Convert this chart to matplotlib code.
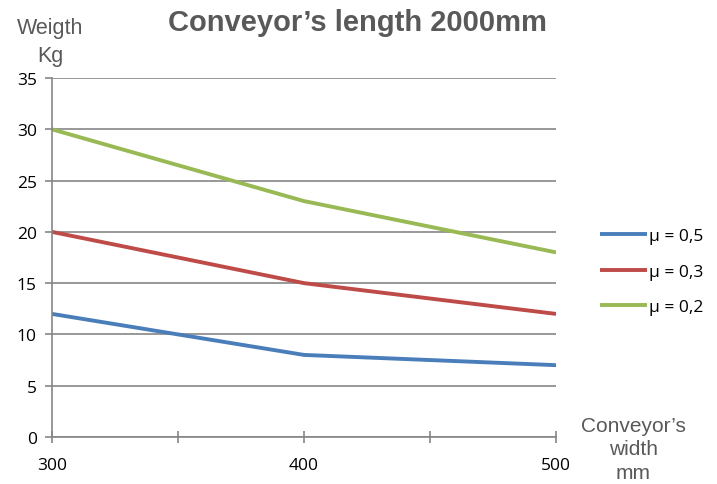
import matplotlib
matplotlib.use("Agg")
import matplotlib.pyplot as plt

# data
widths = [300, 400, 500]
series_labels = ["μ = 0,5", "μ = 0,3", "μ = 0,2"]
mu_05 = [12, 8, 7]
mu_03 = [20, 15, 12]
mu_02 = [30, 23, 18]
colors = ["#4A7EBB", "#BE4B48", "#98B954"]

GRAY = "#868686"
TXT = "#595959"

fig = plt.figure(figsize=(7.17, 4.85), dpi=100)
ax = fig.add_axes([0.0725, 0.097, 0.703, 0.740])

for ys, lab, c in zip([mu_05, mu_03, mu_02], series_labels, colors):
    ax.plot(widths, ys, color=c, lw=2.8, label=lab, solid_capstyle="butt")

ax.set_xlim(300, 500)
ax.set_ylim(0, 35)
ax.set_yticks(range(0, 36, 5))
ax.set_xticks([300, 350, 400, 450, 500])
ax.set_xticklabels(["300", "", "400", "", "500"])
ax.grid(axis="y", color=GRAY, lw=1.2)
ax.set_axisbelow(True)
for s in ["top", "right"]:
    ax.spines[s].set_visible(False)
for s in ["left", "bottom"]:
    ax.spines[s].set_color(GRAY)
    ax.spines[s].set_linewidth(1.2)
ax.tick_params(axis="y", length=5, color=GRAY, width=1.2, labelsize=12.5, pad=6,
               labelcolor="black")
ax.tick_params(axis="x", direction="inout", length=9, color=GRAY, width=1.2,
               labelsize=12.5, pad=10, labelcolor="black")
for t in ax.get_xticklabels() + ax.get_yticklabels():
    t.set_family("Open Sans")

fig.text(0.498, 0.952, "Conveyor’s length 2000mm", ha="center", va="center",
         fontsize=21, fontweight="bold", color=TXT, family="Liberation Sans")
fig.text(0.070, 0.941, "Weigth", ha="center", va="center", fontsize=15.5,
         color=TXT, family="Liberation Sans")
fig.text(0.070, 0.884, "Kg", ha="center", va="center", fontsize=15.5,
         color=TXT, family="Liberation Sans")
fig.text(0.883, 0.073, "Conveyor’s\nwidth\nmm", ha="center", va="center",
         fontsize=15, color=TXT, family="Liberation Sans", linespacing=1.3)

leg = fig.legend(loc="center left", bbox_to_anchor=(0.815, 0.438), frameon=False,
                 handlelength=2.7, handletextpad=0.15, labelspacing=1.1,
                 prop={"family": "Open Sans", "size": 12.5})

fig.savefig("out.png", dpi=100)
